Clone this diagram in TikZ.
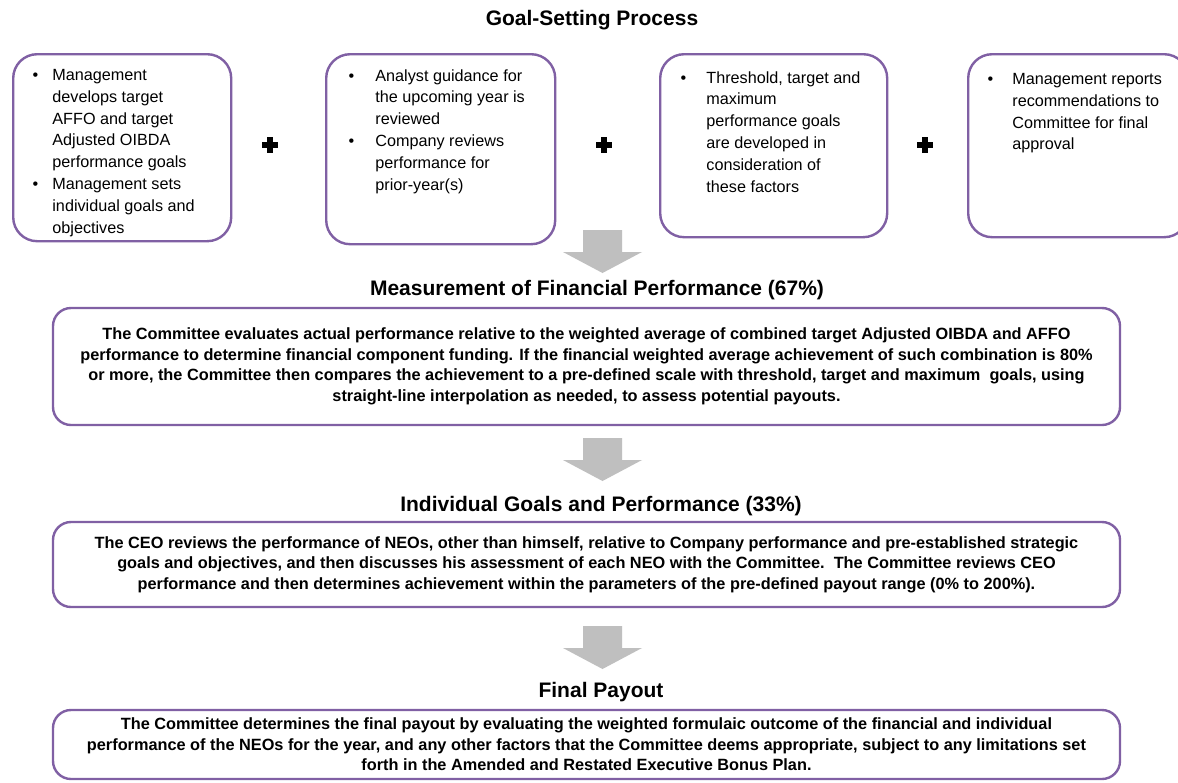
\documentclass[tikz,border=0pt]{standalone}
\usepackage{fontspec}
\setmainfont{Liberation Sans}
\definecolor{boxpurple}{RGB}{128,96,164}
\definecolor{arrowgray}{RGB}{191,191,191}
\newcommand\bul[1]{\llap{\textbullet\hspace{#1}}}
\newcommand\grayarrow[2]{%
  \fill[arrowgray] ({#1-19.5},#2) -- ({#1+19.5},#2) -- ({#1+19.5},{#2+22}) -- ({#1+39.5},{#2+22})
    -- (#1,{#2+43}) -- ({#1-39.5},{#2+22}) -- ({#1-19.5},{#2+22}) -- cycle;}
\tikzset{
  topbox/.style={draw=boxpurple, line width=1.2pt, rounded corners=12pt, anchor=north west, inner sep=0pt},
  bigbox/.style={draw=boxpurple, line width=1.2pt, rounded corners=9pt, minimum width=533.5pt, inner sep=0pt},
  toptext/.style={anchor=north west, align=left, inner sep=0pt, font=\fontsize{8.1}{10.9}\selectfont},
  bodytext/.style={align=center, inner sep=0pt, font=\bfseries\fontsize{8.15}{10.3}\selectfont},
  heading/.style={inner sep=0pt, font=\bfseries\fontsize{10.5}{12.5}\selectfont},
  plussign/.style={line width=3pt}
}
\begin{document}
\begin{tikzpicture}[x=0.5pt,y=-0.5pt]
\clip (0,0) rectangle (1178,782);
\fill[white] (0,0) rectangle (1178,782);

\node[heading] (title) at (592,20) {Goal-Setting Process};

% top boxes
\node[topbox, minimum width=109pt, minimum height=93.5pt] (g1) at (12,53) {};
\node[topbox, minimum width=114.5pt, minimum height=95pt] (g2) at (325,53) {};
\node[topbox, minimum width=113.5pt, minimum height=91.5pt] (g3) at (659,53) {};
\node[topbox, minimum width=110pt, minimum height=91.5pt] (g4) at (967,53) {};

\node[toptext] (g1t) at (52,69) {\bul{7.1pt}Management\\develops target\\AFFO and target\\Adjusted OIBDA\\performance goals\\\bul{7.1pt}Management sets\\individual goals and\\objectives};
\node[toptext] (g2t) at (375,69) {\bul{10.6pt}Analyst guidance for\\the upcoming year is\\reviewed\\\bul{10.6pt}Company reviews\\performance for\\prior-year(s)};
\node[toptext] (g3t) at (706,71) {\bul{10.1pt}Threshold, target and\\maximum\\performance goals\\are developed in\\consideration of\\these factors};
\node[toptext] (g4t) at (1012,73) {\bul{9.6pt}Management reports\\recommendations to\\Committee for final\\approval};

% plus signs
\draw[plussign] (262,145) -- (278,145) (270,137) -- (270,153);
\draw[plussign] (596,145) -- (612,145) (604,137) -- (604,153);
\draw[plussign] (917,145) -- (933,145) (925,137) -- (925,153);

% arrow 1
\grayarrow{602.5}{230}

\node[heading] (h1) at (597,290) {Measurement of Financial Performance (67\%)};
\node[bigbox, minimum height=58.5pt] (b1) at (586.5,366.5) {};
\node[bodytext] (b1t) at (b1.center) {The Committee evaluates actual performance relative to the weighted average of combined target Adjusted OIBDA and AFFO\\performance to determine financial component funding. If the financial weighted average achievement of such combination is 80\%\\or more, the Committee then compares the achievement to a pre-defined scale with threshold, target and maximum\ \ goals, using\\straight-line interpolation as needed, to assess potential payouts.};

\grayarrow{602.5}{438}

\node[heading] (h2) at (601,506) {Individual Goals and Performance (33\%)};
\node[bigbox, minimum height=42.5pt] (b2) at (586.5,564.5) {};
\node[bodytext] (b2t) at (b2.center) {The CEO reviews the performance of NEOs, other than himself, relative to Company performance and pre-established strategic\\goals and objectives, and then discusses his assessment of each NEO with the Committee.\ \ The Committee reviews CEO\\performance and then determines achievement within the parameters of the pre-defined payout range (0\% to 200\%).};

\grayarrow{602.5}{626}

\node[heading] (h3) at (601,692) {Final Payout};
\node[bigbox, minimum height=34.5pt] (b3) at (586.5,744.5) {};
\node[bodytext] (b3t) at (b3.center) {The Committee determines the final payout by evaluating the weighted formulaic outcome of the financial and individual\\performance of the NEOs for the year, and any other factors that the Committee deems appropriate, subject to any limitations set\\forth in the Amended and Restated Executive Bonus Plan.};
\end{tikzpicture}
\end{document}
